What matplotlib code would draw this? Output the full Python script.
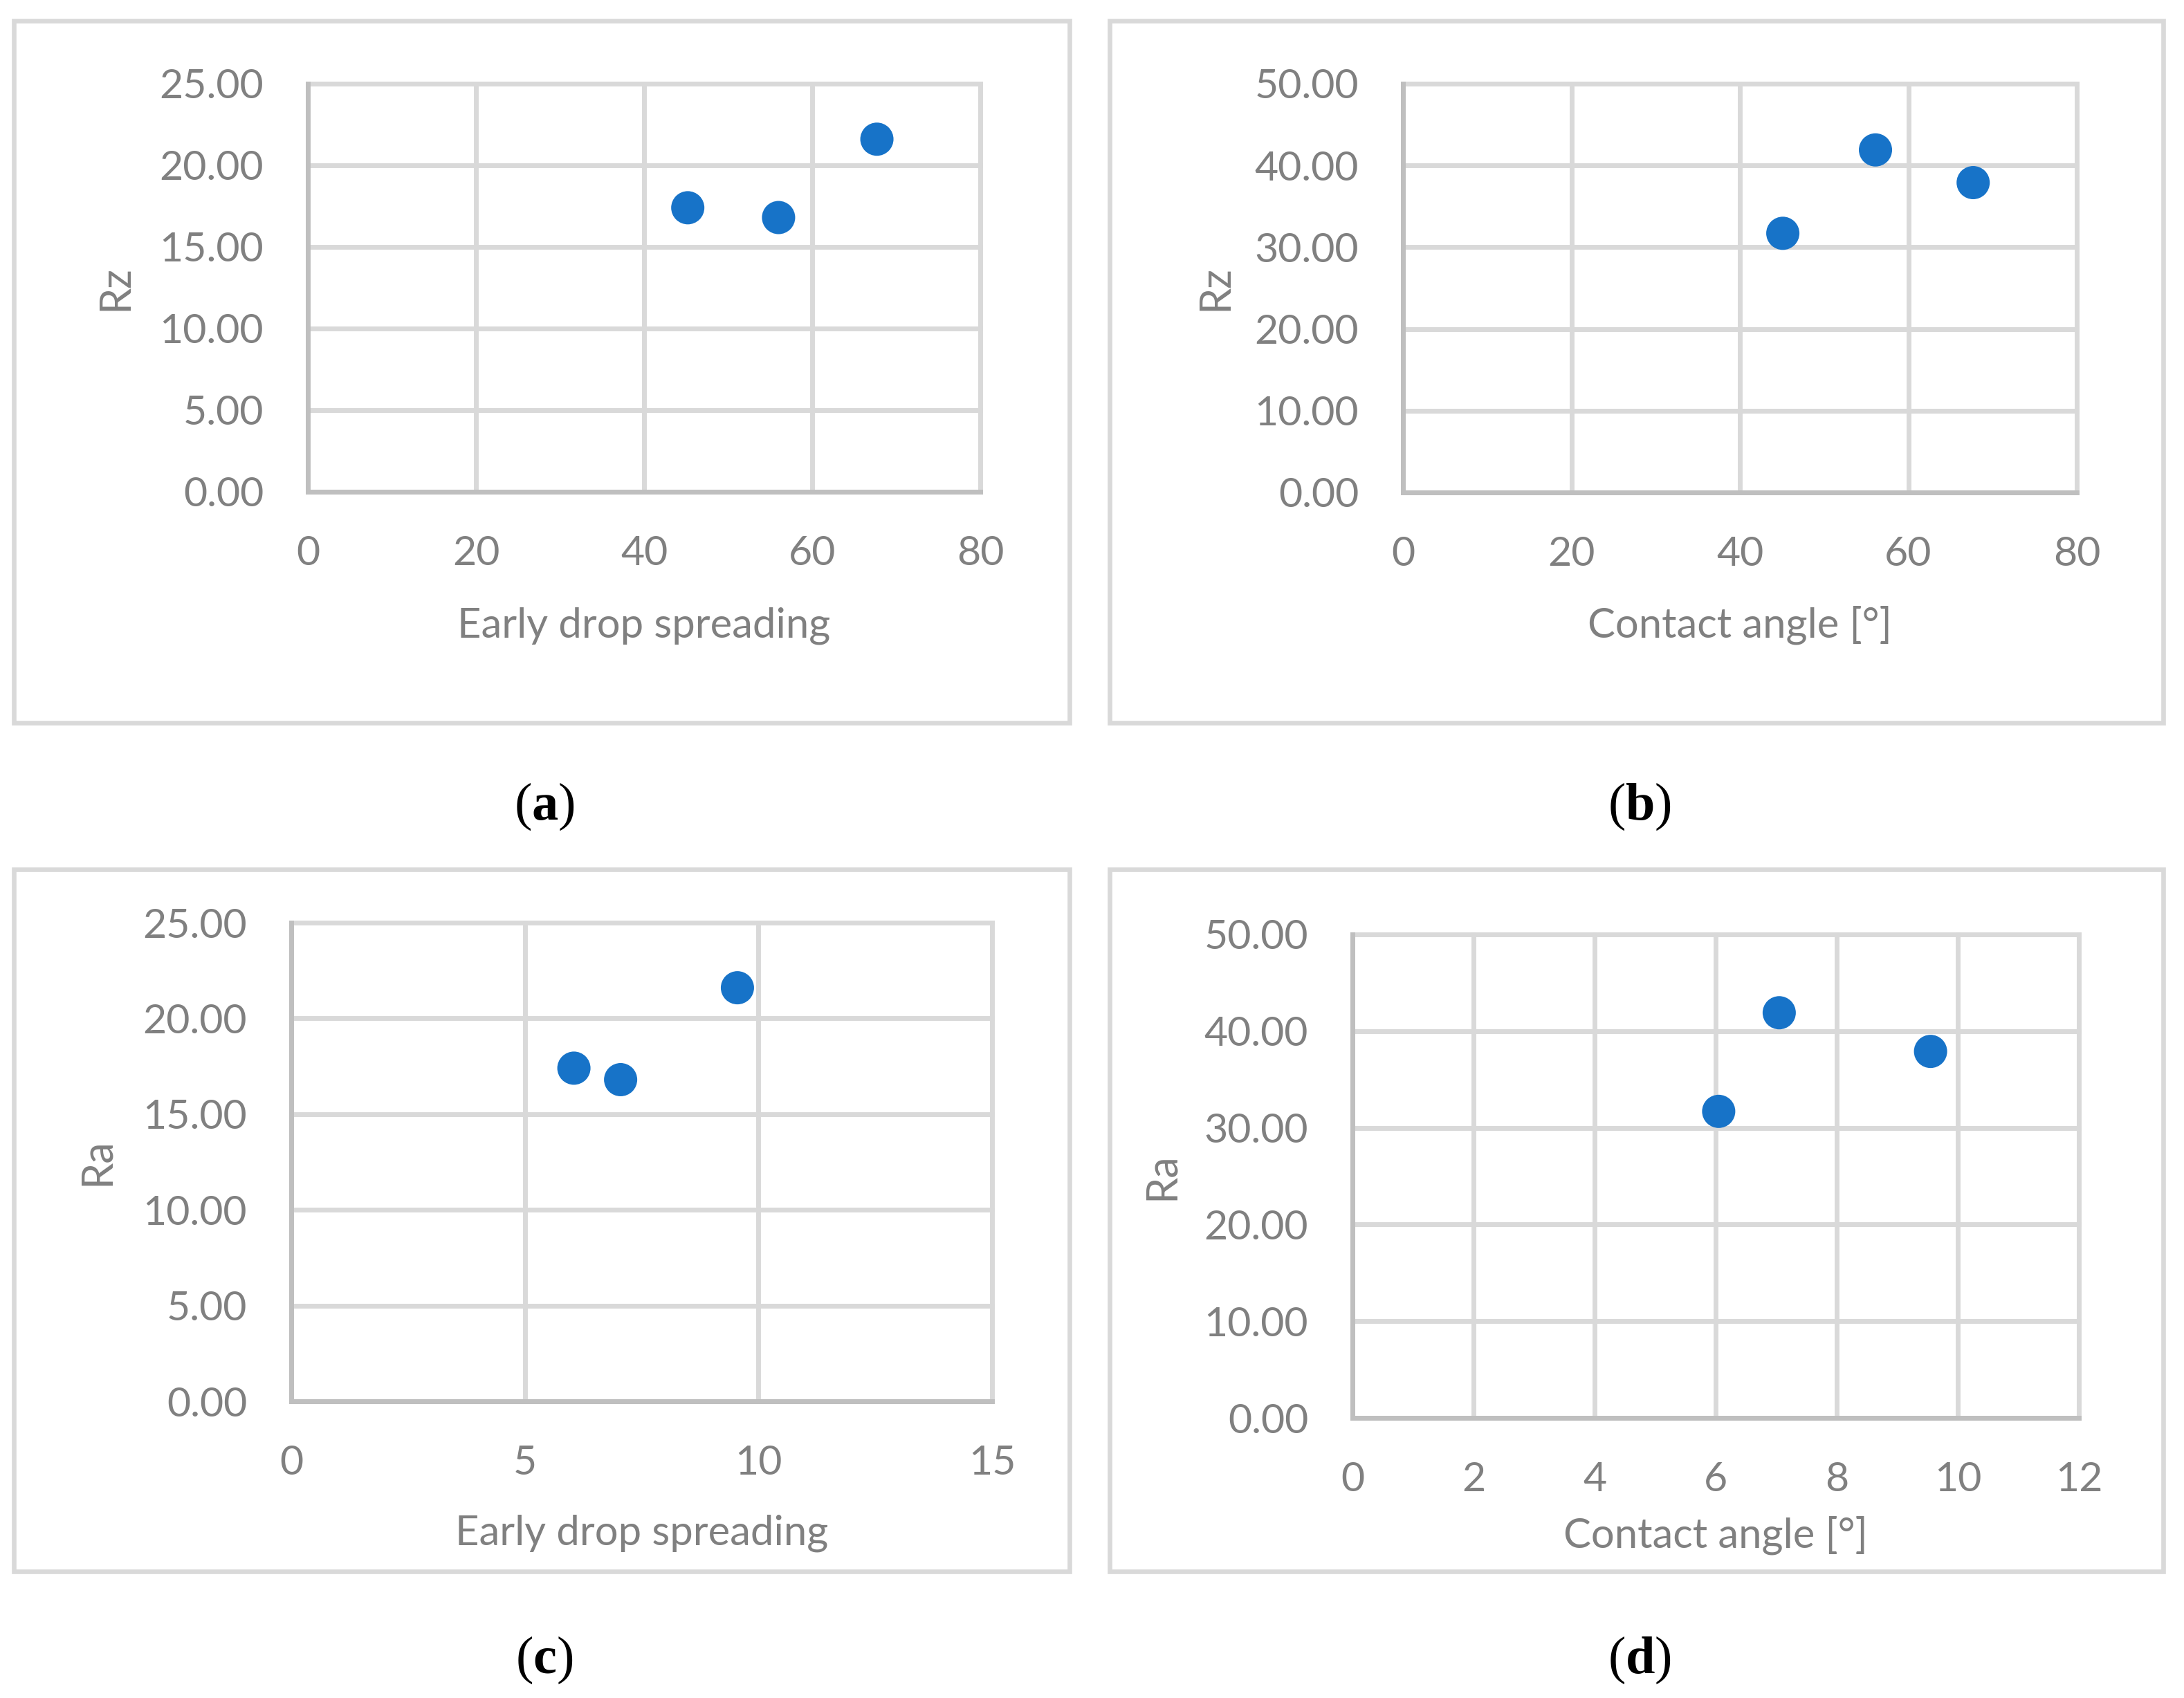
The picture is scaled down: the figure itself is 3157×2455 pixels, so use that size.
import matplotlib
matplotlib.use('Agg')
import matplotlib.pyplot as plt
from matplotlib.patches import Rectangle
from matplotlib.ticker import FormatStrFormatter, MultipleLocator

# ---------------- data ----------------
spreading_a = [45.2, 56.0, 67.7]
rz_a = [17.4, 16.8, 21.6]

contact_b = [45.1, 56.1, 67.7]
rz_b = [31.7, 41.9, 37.9]

spreading_c = [6.05, 7.05, 9.55]
ra_c = [17.4, 16.8, 21.6]

contact_d = [6.05, 7.05, 9.55]
ra_d = [31.7, 41.9, 37.9]

captions = ['a', 'b', 'c', 'd']
xlabels = ['Early drop spreading', 'Contact angle [°]', 'Early drop spreading', 'Contact angle [°]']
ylabels = ['Rz', 'Rz', 'Ra', 'Ra']
xlims = [(0, 80), (0, 80), (0, 15), (0, 12)]
xsteps = [20, 20, 5, 2]
ylims = [(0, 25), (0, 50), (0, 25), (0, 50)]
ysteps = [5, 10, 5, 10]

# ---------------- style ----------------
W, H = 3157, 2455
DPI = 100
TXT = '#808080'
GRID = '#D9D9D9'
AXC = '#BFBFBF'
MARK = '#1773C8'
FONT = 'Lato'

plt.rcParams['mathtext.fontset'] = 'custom'
plt.rcParams['mathtext.rm'] = 'Liberation Serif'
plt.rcParams['mathtext.bf'] = 'Liberation Serif:bold'

fig = plt.figure(figsize=(W / DPI, H / DPI), dpi=DPI)
fig.patch.set_facecolor('white')

# layout in pixels: plot area (x0, x1, ytop, ybot), outer box (x0, x1, ytop, ybot)
plot_px = [(445, 1417, 121, 711), (2028, 3002, 121, 712),
           (421, 1434, 1334, 2026), (1955, 3005, 1351, 2050)]
box_px = [(20, 1546, 30, 1045), (1604, 3127, 30, 1045),
          (20, 1546, 1257, 2272), (1604, 3127, 1257, 2272)]
ylab_off = [278, 271, 281, 276]       # px left of axis
xlab_base = [210, 210, 208, 188]      # px below axis bottom (baseline)
cap_pos = [(787, 1166), (2370, 1166), (787, 2400), (2370, 2400)]

datasets = [(spreading_a, rz_a), (contact_b, rz_b), (spreading_c, ra_c), (contact_d, ra_d)]

for i in range(4):
    bx0, bx1, bt, bb = box_px[i]
    fig.patches.append(Rectangle((bx0 / W, 1 - bb / H), (bx1 - bx0) / W, (bb - bt) / H,
                                 transform=fig.transFigure, fill=False,
                                 edgecolor=GRID, linewidth=4.8, zorder=0))

    x0, x1, yt, yb = plot_px[i]
    ax = fig.add_axes([x0 / W, 1 - yb / H, (x1 - x0) / W, (yb - yt) / H])
    ax.set_facecolor('none')
    xs, ys = datasets[i]
    ax.scatter(xs, ys, s=1195, color=MARK, edgecolors='none', zorder=3, clip_on=False)

    ax.set_xlim(*xlims[i])
    ax.set_ylim(*ylims[i])
    ax.xaxis.set_major_locator(MultipleLocator(xsteps[i]))
    ax.yaxis.set_major_locator(MultipleLocator(ysteps[i]))
    ax.yaxis.set_major_formatter(FormatStrFormatter('%.2f'))
    ax.xaxis.set_major_formatter(FormatStrFormatter('%d'))

    ax.set_axisbelow(True)
    ax.grid(True, color=GRID, linewidth=5)
    for gl in ax.get_xgridlines() + ax.get_ygridlines():
        gl.set_clip_on(False)

    for s in ['top', 'right']:
        ax.spines[s].set_visible(False)
    for s in ['left', 'bottom']:
        ax.spines[s].set_color(AXC)
        ax.spines[s].set_linewidth(5)
        ax.spines[s].set_zorder(2.5)

    ax.tick_params(axis='both', length=0, labelcolor=TXT, labelsize=42.5)
    ax.tick_params(axis='y', pad=46)
    ax.tick_params(axis='x', pad=76)
    for lab in ax.get_xticklabels():
        lab.set_fontfamily(FONT)
        lab.set_va('baseline')
    for lab in ax.get_yticklabels():
        lab.set_fontfamily(FONT)

    ax.set_xlabel(xlabels[i], fontsize=43, color=TXT, fontfamily=FONT)
    ax.xaxis.label.set_va('baseline')
    ax.xaxis.set_label_coords(0.5, -xlab_base[i] / (yb - yt))
    ax.set_ylabel(ylabels[i], fontsize=44, color=TXT, fontfamily=FONT)
    ax.yaxis.label.set_va('center')
    ax.yaxis.set_label_coords(-ylab_off[i] / (x1 - x0), 0.5)

    cx, cy = cap_pos[i]
    fig.text(cx / W, 1 - cy / H, r'$\mathrm{(}\mathbf{' + captions[i] + r'}\mathrm{)}$',
             fontsize=55, color='black', ha='center', va='center')

fig.savefig('out.png', dpi=DPI, facecolor='white')
